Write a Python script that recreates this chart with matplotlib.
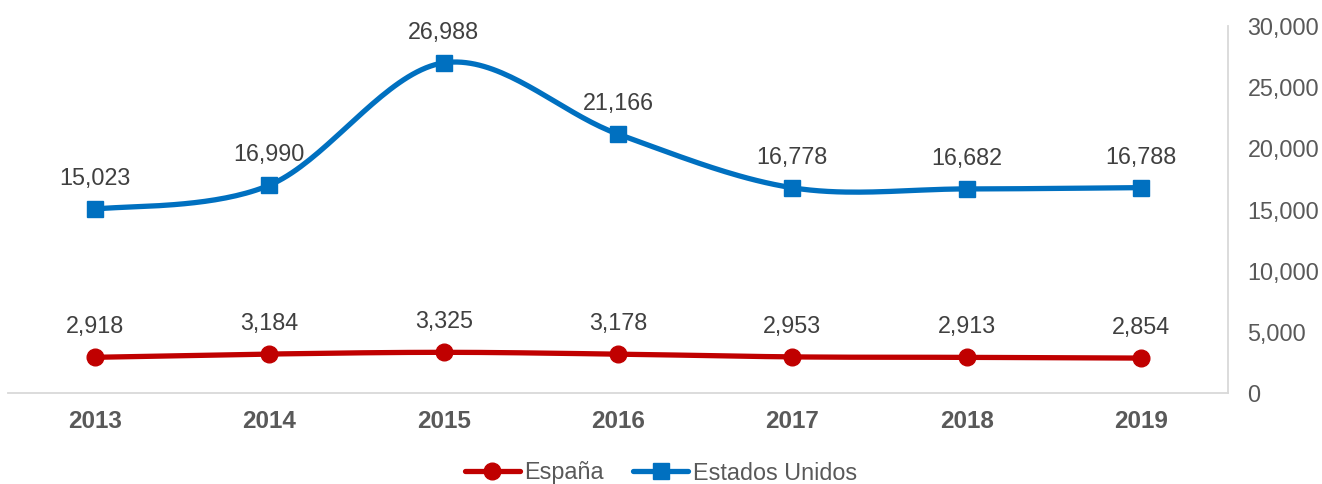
import numpy as np
import matplotlib
matplotlib.use("Agg")
from matplotlib import pyplot as plt
from matplotlib.ticker import FuncFormatter

years = ["2013", "2014", "2015", "2016", "2017", "2018", "2019"]
espana = [2918, 3184, 3325, 3178, 2953, 2913, 2854]
eeuu = [15023, 16990, 26988, 21166, 16778, 16682, 16788]

plt.rcParams['font.family'] = ['Liberation Sans', 'DejaVu Sans']


def smooth(xs, ys, n=40):
    # excel-like smoothed line (catmull-rom as bezier)
    xs = np.asarray(xs, float)
    ys = np.asarray(ys, float)
    px = np.concatenate([[xs[0]], xs, [xs[-1]]])
    py = np.concatenate([[ys[0]], ys, [ys[-1]]])
    ox, oy = [], []
    t = np.linspace(0, 1, n)
    for i in range(1, len(px) - 2):
        x0, y0 = px[i], py[i]
        x3, y3 = px[i + 1], py[i + 1]
        x1 = x0 + (px[i + 1] - px[i - 1]) / 6
        y1 = y0 + (py[i + 1] - py[i - 1]) / 6
        x2 = x3 - (px[i + 2] - px[i]) / 6
        y2 = y3 - (py[i + 2] - py[i]) / 6
        bx = (1-t)**3*x0 + 3*(1-t)**2*t*x1 + 3*(1-t)*t**2*x2 + t**3*x3
        by = (1-t)**3*y0 + 3*(1-t)**2*t*y1 + 3*(1-t)*t**2*y2 + t**3*y3
        ox.extend(bx)
        oy.extend(by)
    return ox, oy


fig = plt.figure(figsize=(13.22, 4.84), dpi=100)
ax = fig.add_axes([8/1322, 1-393/484, 1220/1322, 367/484])

x = np.arange(len(years))
red, blue = "#C00000", "#0070C0"
txt = "#404040"
gray = "#595959"
fs = 16.8
lw = 3.8

for vals, col, mk, ms in [(espana, red, "o", 12), (eeuu, blue, "s", 11)]:
    sx, sy = smooth(x, vals)
    ax.plot(sx, sy, color=col, lw=lw, solid_capstyle='round', zorder=2)
    ax.plot(x, vals, color=col, marker=mk, ms=ms, ls='none', zorder=3)
    for xi, v in zip(x, vals):
        ax.annotate(f"{v:,}", (xi, v), xytext=(0, 22), textcoords='offset points',
                    ha='center', va='center', fontsize=fs, color=txt)

# legend proxies
hs = [plt.Line2D([], [], color=red, lw=lw, marker='o', ms=12, solid_capstyle='round'),
      plt.Line2D([], [], color=blue, lw=lw, marker='s', ms=11, solid_capstyle='round')]
fig.legend(hs, ["España", "Estados Unidos"], loc='center', bbox_to_anchor=(661/1322, 1-473/484),
           ncol=2, frameon=False, fontsize=fs, handlelength=2.35, handletextpad=0.2,
           columnspacing=1.25, labelcolor=gray)

ax.set_xlim(-0.5, 6.5)
ax.set_ylim(0, 30000)
ax.set_xticks(x)
ax.set_xticklabels(years, fontsize=17.5, fontweight='bold', color=gray)
ax.set_yticks(np.arange(0, 30001, 5000))
ax.yaxis.set_major_formatter(FuncFormatter(lambda v, p: f"{int(v):,}"))
ax.yaxis.tick_right()
for lbl in ax.get_yticklabels():
    lbl.set_horizontalalignment('left')
ax.tick_params(axis='y', length=0, pad=14, labelsize=fs, labelcolor=gray)
ax.tick_params(axis='x', length=0, pad=12)

for s in ['top', 'left']:
    ax.spines[s].set_visible(False)
for s in ['bottom', 'right']:
    ax.spines[s].set_color("#D9D9D9")
    ax.spines[s].set_linewidth(1.3)

fig.savefig("out.png", dpi=100)
